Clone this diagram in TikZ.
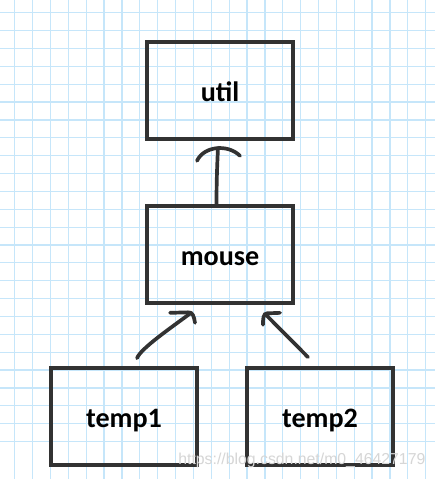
\documentclass[tikz,border=0pt]{standalone}
\usepackage{fontspec}
\setmainfont{Carlito}
\newfontfamily\wmfont{Liberation Sans}
\usetikzlibrary{calc}
\definecolor{gridc}{RGB}{198,230,250}
\definecolor{linec}{RGB}{50,50,50}
\definecolor{wmc}{RGB}{214,214,214}
\tikzset{
  box/.style={draw=linec, line width=2.1pt, minimum width=2.92cm, minimum height=1.94cm,
    inner sep=0pt, text height=0.52cm, text depth=0.08cm,
    font=\fontsize{16}{18}\selectfont\bfseries},
  conn/.style={draw=linec, line width=2.1pt, line cap=round, line join=round},
}
\begin{document}
\begin{tikzpicture}[x=0.02cm,y=-0.02cm]
\fill[white] (0,0) rectangle (435,479);
\useasboundingbox (0,0) rectangle (435,479);
% grid paper
\foreach \k in {-1,...,24} {
  \draw[gridc, line width=0.7pt] ({14.7+17.87*\k},0) -- ({14.7+17.87*\k},479);
  \draw[gridc, line width=0.7pt] (0,{12.7+17.87*\k}) -- (435,{12.7+17.87*\k});
}
% boxes
\node[box] (util) at (220,90.5) {util};
\node[box] (mouse) at (220,254.5) {mouse};
\node[box] (temp1) at (124,416.5) {temp1};
\node[box] (temp2) at (320,416.5) {temp2};
% arrow ends
\coordinate (mu-s) at ($(mouse.north)+(-3.5,0)$);
\coordinate (mu-e) at ($(util.south)+(-2,7)$);
\coordinate (t1-s) at ($(temp1.north)+(13,-8)$);
\coordinate (t1-e) at ($(mouse.south)+(-29,8)$);
\coordinate (t2-s) at ($(temp2.north)+(-12,-9)$);
\coordinate (t2-e) at ($(mouse.south)+(45,9)$);
% mouse -> util
\draw[conn] (mu-s) .. controls +(0,-20) and +(-1,20) .. (mu-e);
\draw[conn] ($(mu-e)+(-21,13)$) .. controls ($(mu-e)+(-14,-2)$) and ($(mu-e)+(10,-4)$) .. ($(mu-e)+(22,8)$);
% temp1 -> mouse
\draw[conn] (t1-s) .. controls +(4,-10) and +(-20,15) .. (t1-e);
\draw[conn] ($(t1-e)+(-21,0)$) -- ($(t1-e)+(-3,-0.5)$) .. controls ($(t1-e)+(2,-1)$) and ($(t1-e)+(3,4)$) .. ($(t1-e)+(4,10)$);
% temp2 -> mouse
\draw[conn] (t2-s) -- (t2-e);
\draw[conn] ($(t2-e)+(15,-1)$) -- ($(t2-e)+(2,-0.5)$) .. controls ($(t2-e)+(-2,0)$) and ($(t2-e)+(-2,5)$) .. ($(t2-e)+(-2,11)$);
% watermark
\node[anchor=base west, inner sep=0pt, text=wmc, font=\wmfont\fontsize{9}{10}\selectfont] (wm) at (178,464) {https://blog.csdn.net/m0\_46427179};
\end{tikzpicture}
\end{document}
